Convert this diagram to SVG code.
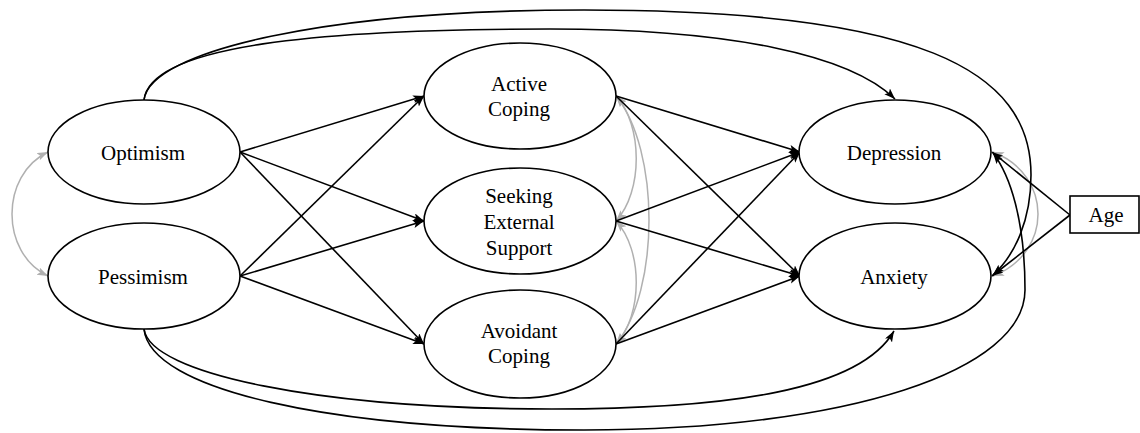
<svg xmlns="http://www.w3.org/2000/svg" width="1140" height="433" viewBox="0 0 1140 433">
<style>
.node ellipse, .node rect { fill: #fff; stroke: #000; stroke-width: 1.6; }
.node text { font-family: "Liberation Serif", "Times New Roman", serif; font-size: 21px; fill: #000; text-anchor: middle; }
.path { fill: none; stroke: #000; stroke-width: 1.6; marker-end: url(#ah); }
.cov { fill: none; stroke: #b0b0b0; stroke-width: 1.5; marker-start: url(#gh); marker-end: url(#gh); }
</style>
<defs>
<marker id="ah" markerUnits="userSpaceOnUse" markerWidth="12" markerHeight="10" refX="11" refY="4" orient="auto">
<path d="M0,0 L11,4 L0,8 L2.5,4 z" fill="#000"/>
</marker>
<marker id="gh" markerUnits="userSpaceOnUse" markerWidth="12" markerHeight="10" refX="11" refY="4" orient="auto-start-reverse">
<path d="M0,0 L11,4 L0,8 L2.5,4 z" fill="#b0b0b0"/>
</marker>
</defs>
<rect width="1140" height="433" fill="#fff"/>
<g id="connectors">
<path class="cov" d="M48,152 C0,175 0,253 48,276"/>
<path class="cov" d="M616,96 C643,125 643,192 616,221"/>
<path class="cov" d="M616,221 C643,250 643,315 616,344"/>
<path class="cov" d="M616,96 C660,150 660,290 616,344"/>
<path class="cov" d="M993,152 C1053,175 1053,253 993,276"/>
<path class="path" d="M240,152 L424,96"/>
<path class="path" d="M240,152 L424,221"/>
<path class="path" d="M240,152 L424,344"/>
<path class="path" d="M240,276 L424,96"/>
<path class="path" d="M240,276 L424,221"/>
<path class="path" d="M240,276 L424,344"/>
<path class="path" d="M616,96 L800,152"/>
<path class="path" d="M616,96 L800,276"/>
<path class="path" d="M616,221 L800,152"/>
<path class="path" d="M616,221 L800,276"/>
<path class="path" d="M616,344 L800,152"/>
<path class="path" d="M616,344 L800,276"/>
<path class="path" d="M1070,215 L992,152"/>
<path class="path" d="M1070,215 L992,276"/>
<path class="path" d="M144,100 C150,45 320,29 550,29 C730,29 850,55 895,99"/>
<path class="path" d="M144,100 C150,50 330,10 584,10 C920,10 1031,70 1031,175 C1031,220 1015,255 993,275"/>
<path class="path" d="M144,329 C150,374 320,409 552,409 C730,409 860,390 894,331"/>
<path class="path" d="M144,329 C150,390 330,430 584,430 C850,430 1025,370 1025,290 C1025,220 1010,175 993,153"/>
</g>
<g id="optimism" class="node"><ellipse cx="144" cy="152" rx="96" ry="52"/><text x="143" y="160">Optimism</text></g>
<g id="pessimism" class="node"><ellipse cx="144" cy="276" rx="96" ry="53"/><text x="143" y="284">Pessimism</text></g>
<g id="active-coping" class="node"><ellipse cx="520" cy="96" rx="96" ry="53"/><text x="519" y="91">Active</text><text x="519" y="116">Coping</text></g>
<g id="seeking-external-support" class="node"><ellipse cx="520" cy="221" rx="96" ry="53"/><text x="519" y="203">Seeking</text><text x="519" y="229">External</text><text x="519" y="255">Support</text></g>
<g id="avoidant-coping" class="node"><ellipse cx="520" cy="344" rx="96" ry="54"/><text x="519" y="338">Avoidant</text><text x="519" y="363">Coping</text></g>
<g id="depression" class="node"><ellipse cx="895" cy="152" rx="96" ry="52"/><text x="894" y="160">Depression</text></g>
<g id="anxiety" class="node"><ellipse cx="895" cy="276" rx="96" ry="53"/><text x="894" y="284">Anxiety</text></g>
<g id="age" class="node"><rect x="1070" y="196" width="69" height="37"/><text x="1106" y="222">Age</text></g>
</svg>
